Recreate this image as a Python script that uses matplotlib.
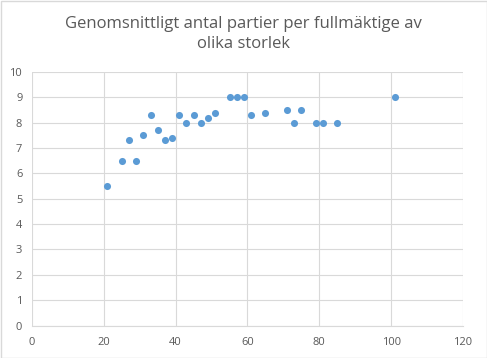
import matplotlib
matplotlib.use("Agg")
import matplotlib.pyplot as plt
from matplotlib.patches import Rectangle

# fullmäktige size vs average number of parties
storlek = [21, 25, 27, 29, 31, 33, 35, 37, 39, 41, 43, 45, 47, 49, 51,
           55, 57, 59, 61, 65, 71, 73, 75, 79, 81, 85, 101]
partier = [5.5, 6.5, 7.3, 6.5, 7.5, 8.3, 7.7, 7.3, 7.4, 8.3, 8.0, 8.3, 8.0, 8.2, 8.4,
           9.0, 9.0, 9.0, 8.3, 8.4, 8.5, 8.0, 8.5, 8.0, 8.0, 8.0, 9.0]

title = "Genomsnittligt antal partier per fullmäktige av\nolika storlek"
text_col = "#595959"
grid_col = "#D9D9D9"

plt.rcParams['font.family'] = ['Open Sans', 'DejaVu Sans']

fig = plt.figure(figsize=(4.87, 3.58), dpi=100)
ax = fig.add_axes([32 / 487, 1 - 325.5 / 358, (463 - 32) / 487, (325.5 - 72) / 358])

ax.scatter(storlek, partier, s=26, color="#5B9BD5", zorder=3, linewidths=0)

ax.set_xlim(0, 120)
ax.set_ylim(0, 10)
ax.set_xticks(range(0, 121, 20))
ax.set_yticks(range(0, 11))
ax.grid(True, color=grid_col, linewidth=0.8)
ax.set_axisbelow(True)
for side in ['top', 'right', 'left']:
    ax.spines[side].set_visible(False)
ax.spines['bottom'].set_color(grid_col)
ax.spines['bottom'].set_linewidth(0.8)
ax.tick_params(length=0, labelsize=8, labelcolor=text_col)
ax.tick_params(axis='x', pad=8)
ax.tick_params(axis='y', pad=7)

fig.text(0.5, 1 - 34 / 358, title, ha='center', va='center', fontsize=12,
         color=text_col, linespacing=1.4)

# thin frame around the whole chart
fig.patches.append(Rectangle((0.5 / 487, 0.5 / 358), 1 - 1 / 487, 1 - 1 / 358,
                             transform=fig.transFigure, fill=False,
                             edgecolor="#D9D9D9", linewidth=1))

fig.savefig("out.png", dpi=100)
